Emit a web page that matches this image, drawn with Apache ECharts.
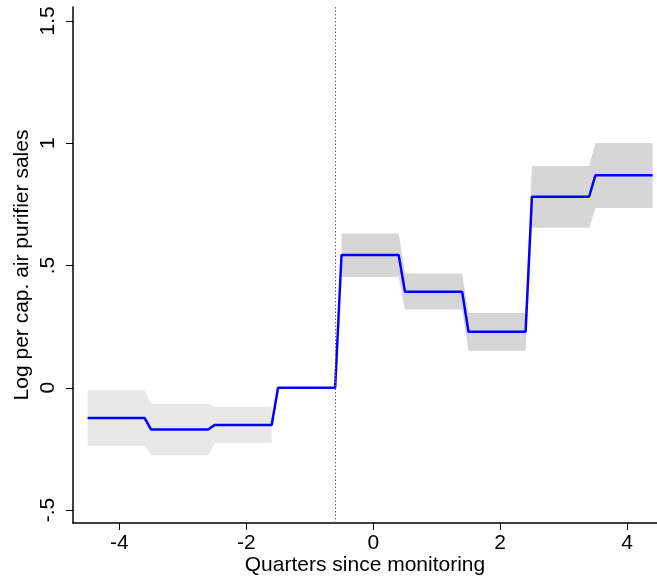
<!DOCTYPE html>
<html>
<head>
<meta charset="utf-8">
<script src="https://cdn.jsdelivr.net/npm/echarts@6/dist/echarts.min.js"></script>
<style>
html,body{margin:0;padding:0;background:#fff;}
#chart{width:657px;height:581px;}
</style>
</head>
<body>
<div id="chart"></div>
<script>
// ---- data ----
var periods = [-4, -3, -2, -1, 0, 1, 2, 3, 4];
var coef    = [-0.124, -0.171, -0.152, 0, 0.543, 0.393, 0.229, 0.781, 0.869];
var ciLow   = [-0.238, -0.276, -0.226, 0, 0.453, 0.320, 0.151, 0.654, 0.735];
var ciHigh  = [-0.009, -0.065, -0.078, 0, 0.631, 0.467, 0.306, 0.907, 1.001];
var prePeriods  = [-4, -3, -2];
var postPeriods = [0, 1, 2, 3, 4];
var xTicks = [-4, -2, 0, 2, 4];
var yTicks = [-0.5, 0, 0.5, 1, 1.5];
var yTickLabels = ['-.5', '0', '.5', '1', '1.5'];
var eventLine = -0.6;

// step segment offsets around each period
var segStart = -0.5, segEnd = 0.4;

function stepPoints(vals) {
  var pts = [];
  for (var i = 0; i < periods.length; i++) {
    pts.push([periods[i] + segStart, vals[i]]);
    pts.push([periods[i] + segEnd, vals[i]]);
  }
  return pts;
}
function bandRows(list) {
  var rows = [];
  list.forEach(function (p) {
    var i = periods.indexOf(p);
    rows.push([p + segStart, ciLow[i], ciHigh[i]]);
    rows.push([p + segEnd, ciLow[i], ciHigh[i]]);
  });
  return rows;
}
function bandSeries(rows, color) {
  return {
    type: 'custom',
    silent: true,
    z: 1,
    data: [0],
    renderItem: function (params, api) {
      var upper = rows.map(function (r) { return api.coord([r[0], r[2]]); });
      var lower = rows.slice().reverse().map(function (r) { return api.coord([r[0], r[1]]); });
      return {
        type: 'polygon',
        shape: { points: upper.concat(lower) },
        style: { fill: color, stroke: null }
      };
    }
  };
}

var chart = echarts.init(document.getElementById('chart'), null, { renderer: 'canvas' });
var font = 'Liberation Sans, Arial, sans-serif';
chart.setOption({
  animation: false,
  backgroundColor: '#ffffff',
  grid: { left: 73, right: 0, top: 7, bottom: 58, containLabel: false, outerBoundsMode: 'none' },
  xAxis: {
    type: 'value',
    min: -4.73, max: 4.47,
    name: 'Quarters since monitoring',
    nameLocation: 'middle',
    nameGap: 32,
    nameMoveOverlap: false,
    nameTextStyle: { fontFamily: font, fontSize: 21, color: '#000' },
    axisLine: { show: true, onZero: false, lineStyle: { color: '#000', width: 1.5 } },
    axisTick: { show: true, length: 7, customValues: xTicks, lineStyle: { color: '#000', width: 1 } },
    axisLabel: { customValues: xTicks, fontFamily: font, fontSize: 21, color: '#000', margin: 10 },
    splitLine: { show: false }
  },
  yAxis: {
    type: 'value',
    min: -0.553, max: 1.557,
    name: 'Log per cap. air purifier sales',
    nameLocation: 'middle',
    nameGap: 40,
    nameMoveOverlap: false,
    nameTextStyle: { fontFamily: font, fontSize: 21, color: '#000' },
    axisLine: { show: true, onZero: false, lineStyle: { color: '#000', width: 1.5 } },
    axisTick: { show: true, length: 7, customValues: yTicks, lineStyle: { color: '#000', width: 1 } },
    axisLabel: {
      customValues: yTicks, rotate: 90, fontFamily: font, fontSize: 21, color: '#000', margin: 14,
      formatter: function (v) {
        for (var i = 0; i < yTicks.length; i++) if (Math.abs(yTicks[i] - v) < 1e-6) return yTickLabels[i];
        return '';
      }
    },
    splitLine: { show: false }
  },
  series: [
    bandSeries(bandRows(prePeriods), '#e8e8e8'),
    bandSeries(bandRows(postPeriods), '#d6d6d6'),
    {
      type: 'line',
      data: stepPoints(coef),
      symbol: 'none',
      z: 3,
      lineStyle: { color: '#0000ff', width: 2.5 },
      markLine: {
        silent: true,
        symbol: 'none',
        label: { show: false },
        lineStyle: { color: '#666', type: [1.5, 2], width: 1 },
        data: [{ xAxis: eventLine }]
      }
    }
  ]
});
</script>
</body>
</html>
